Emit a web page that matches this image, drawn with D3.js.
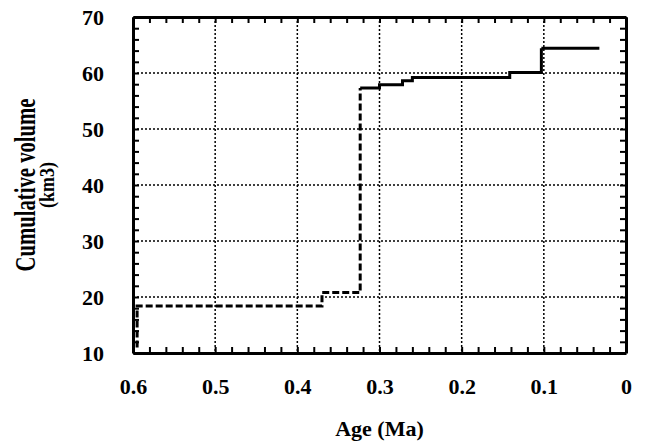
<!DOCTYPE html>
<html>
<head>
<meta charset="utf-8">
<script src="https://cdn.jsdelivr.net/npm/d3@7"></script>
<style>
  body { margin: 0; background: #fff; }
  text { font-family: "Liberation Serif", "Times New Roman", serif; font-weight: bold; fill: #000; }
</style>
</head>
<body>
<div id="chart"></div>
<script>
// step points (age in Ma, cumulative volume in km3)
var earlyAges = [0.595, 0.595, 0.37, 0.3235];
var earlyVols = [11, 18.4, 20.8, 57.3];
var midAges = [0.3235, 0.300, 0.272, 0.26, 0.1415, 0.103];
var midVols = [57.3, 57.9, 58.6, 59.2, 60.1, 64.4];
var lateAges = [0.103, 0.026];
var lateVols = [64.4, 64.4];

var xTicks = [0.6, 0.5, 0.4, 0.3, 0.2, 0.1, 0];
var yTicks = [10, 20, 30, 40, 50, 60, 70];

var width = 646, height = 443;
var margin = { top: 17, right: 20, bottom: 90, left: 133 };
var chartWidth = width - margin.left - margin.right;
var chartHeight = height - margin.top - margin.bottom;

var svg = d3.select("#chart").append("svg")
  .attr("width", width)
  .attr("height", height);

var g = svg.append("g")
  .attr("transform", `translate(${margin.left}, ${margin.top})`);

// age runs backwards, old on the left
var xScale = d3.scaleLinear().domain([0.6, 0]).range([0, chartWidth]);
var yScale = d3.scaleLinear().domain([10, 70]).range([chartHeight, 0]);

// dotted grid at the major ticks
g.append("g").selectAll("line")
  .data(xTicks.slice(1, -1))
  .enter().append("line")
  .attr("x1", d => xScale(d)).attr("x2", d => xScale(d))
  .attr("y1", 0).attr("y2", chartHeight)
  .attr("stroke", "#000").attr("stroke-width", 1.5)
  .attr("stroke-dasharray", "2,2");

g.append("g").selectAll("line")
  .data(yTicks.slice(1, -1))
  .enter().append("line")
  .attr("y1", d => yScale(d)).attr("y2", d => yScale(d))
  .attr("x1", 0).attr("x2", chartWidth)
  .attr("stroke", "#000").attr("stroke-width", 1.5)
  .attr("stroke-dasharray", "2,2");

// minor ticks every 0.02 and 2 km3, pointing inward on all four sides
var xMinor = d3.range(0, 31).map(i => +(i * 0.02).toFixed(2));
var yMinor = d3.range(10, 71, 2);

var axes = [
  { ax: d3.axisBottom(xScale), t: `translate(0, ${chartHeight})`, ticks: xMinor },
  { ax: d3.axisTop(xScale), t: "translate(0, 0)", ticks: xMinor },
  { ax: d3.axisLeft(yScale), t: "translate(0, 0)", ticks: yMinor },
  { ax: d3.axisRight(yScale), t: `translate(${chartWidth}, 0)`, ticks: yMinor }
];
axes.forEach(a => {
  var sel = g.append("g")
    .attr("transform", a.t)
    .call(a.ax.tickValues(a.ticks).tickSizeInner(-6).tickSizeOuter(0).tickFormat(""));
  sel.select(".domain").attr("stroke", "#000").attr("stroke-width", 3);
  sel.selectAll(".tick line").attr("stroke", "#000").attr("stroke-width", 2);
});

// tick labels
g.append("g")
  .attr("transform", `translate(0, ${chartHeight})`)
  .call(d3.axisBottom(xScale).tickValues(xTicks).tickSize(0).tickPadding(0)
    .tickFormat(d => d === 0 ? "0" : d3.format(".1f")(d)))
  .call(s => s.select(".domain").remove())
  .selectAll("text")
  .attr("font-size", 22).attr("y", 41).attr("dy", 0);

g.append("g")
  .call(d3.axisLeft(yScale).tickValues(yTicks).tickSize(0).tickPadding(29))
  .call(s => s.select(".domain").remove())
  .selectAll("text")
  .attr("font-size", 22).attr("dy", "0.35em");

g.selectAll(".tick text").style("font-family", "Liberation Serif").style("font-weight", "bold");

// the cumulative volume step curve
var line = d3.line()
  .x(d => xScale(d[0]))
  .y(d => yScale(d[1]))
  .curve(d3.curveStepAfter);

var parts = [
  { ages: earlyAges, vols: earlyVols, dash: "7,3" },
  { ages: midAges, vols: midVols, dash: null },
  { ages: lateAges, vols: lateVols, dash: "58,12,16,20" }
];
parts.forEach(p => {
  g.append("path")
    .datum(d3.zip(p.ages, p.vols))
    .attr("d", line)
    .attr("fill", "none")
    .attr("stroke", "#000")
    .attr("stroke-width", 3)
    .attr("stroke-dasharray", p.dash);
});

// axis titles
svg.append("text")
  .attr("x", margin.left + chartWidth / 2)
  .attr("y", 436)
  .attr("text-anchor", "middle")
  .attr("font-size", 22)
  .text("Age (Ma)");

svg.append("text")
  .attr("transform", "translate(35, 185) rotate(-90) scale(1, 1.4)")
  .attr("text-anchor", "middle")
  .attr("font-size", 21)
  .attr("textLength", 173)
  .attr("lengthAdjust", "spacingAndGlyphs")
  .text("Cumulative volume");

svg.append("text")
  .attr("transform", "translate(54, 185) rotate(-90)")
  .attr("text-anchor", "middle")
  .attr("font-size", 21)
  .attr("textLength", 46)
  .attr("lengthAdjust", "spacingAndGlyphs")
  .text("(km3)");
</script>
</body>
</html>
